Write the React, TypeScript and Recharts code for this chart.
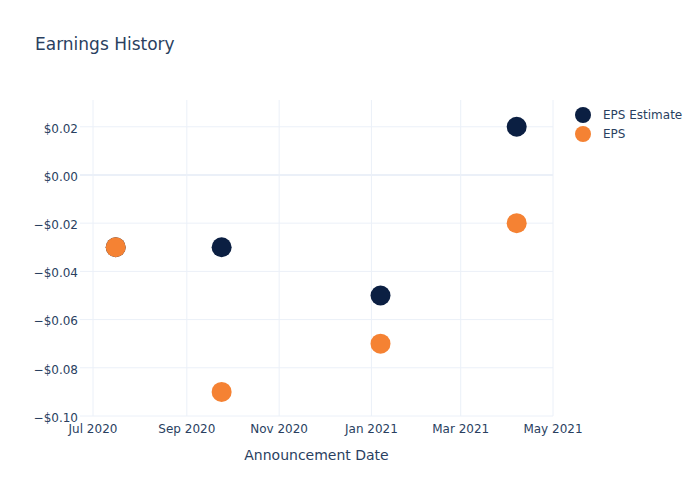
import React from "react";
import {
  ScatterChart,
  Scatter,
  XAxis,
  YAxis,
  ReferenceLine,
} from "recharts";

const announcementDates: string[] = ["2020-07-16", "2020-09-24", "2021-01-07", "2021-04-07"];
const epsEstimate: number[] = [-0.03, -0.03, -0.05, 0.02];
const epsActual: number[] = [-0.03, -0.09, -0.07, -0.02];
const xTickDates: string[] = ["2020-07-01", "2020-09-01", "2020-11-01", "2021-01-01", "2021-03-01", "2021-05-01"];
const yTicks: number[] = [-0.1, -0.08, -0.06, -0.04, -0.02, 0, 0.02];
const monthNames: string[] = ["Jan", "Feb", "Mar", "Apr", "May", "Jun", "Jul", "Aug", "Sep", "Oct", "Nov", "Dec"];

const SERIES_NAMES = ["EPS Estimate", "EPS"];
const NAVY = "#0b1f42";
const ORANGE = "#f58233";
const TEXT = "#2a3f5f";
const GRID = "#ebf0f8";
const FONT = "'DejaVu Sans', Verdana, sans-serif";

const ts = (d: string) => Date.parse(d + "T00:00:00Z");

const estimateData = announcementDates.map((d, i) => ({ x: ts(d), y: epsEstimate[i] }));
const epsData = announcementDates.map((d, i) => ({ x: ts(d), y: epsActual[i] }));
const xTicks = xTickDates.map(ts);
const xDomain = [ts("2020-07-01") - 8.6 * 86400000, ts("2021-05-01")];

const fmtDate = (v: number) => {
  const d = new Date(v);
  return `${monthNames[d.getUTCMonth()]} ${d.getUTCFullYear()}`;
};
const fmtMoney = (v: number) => {
  const a = Math.abs(v).toFixed(2);
  return v < -1e-9 ? `\u2212$${a}` : `$${a}`;
};

const dot = (color: string) => (props: any) => (
  <circle cx={props.cx} cy={props.cy} r={10} fill={color} />
);

const YTick = (props: any) => (
  <text
    x={props.x}
    y={props.y + 1.5}
    dy="0.355em"
    textAnchor="end"
    fill={TEXT}
    fontSize={12}
    fontFamily={FONT}
  >
    {fmtMoney(props.payload.value)}
  </text>
);

const LegendBox = () => (
  <div
    style={{
      position: "absolute",
      left: 575,
      top: 105,
      fontFamily: FONT,
      fontSize: 12,
      color: TEXT,
    }}
  >
    {[NAVY, ORANGE].map((c, i) => (
      <div key={i} style={{ display: "flex", alignItems: "center", height: 19 }}>
        <svg width={16} height={16} style={{ marginRight: 12 }}>
          <circle cx={8} cy={8} r={8} fill={c} />
        </svg>
        <span>{SERIES_NAMES[i]}</span>
      </div>
    ))}
  </div>
);

export default function App() {
  return (
    <div
      style={{
        position: "absolute",
        left: 0,
        top: 0,
        width: 700,
        height: 500,
        background: "#fff",
        fontFamily: FONT,
      }}
    >
      <div
        style={{
          position: "absolute",
          left: 35,
          top: 34,
          fontSize: 17,
          color: TEXT,
          fontFamily: FONT,
          lineHeight: "20px",
        }}
      >
        Earnings History
      </div>
      <ScatterChart
        width={700}
        height={500}
        margin={{ top: 100, right: 147, bottom: 0, left: 0 }}
      >
        <XAxis
          type="number"
          dataKey="x"
          domain={xDomain}
          ticks={xTicks}
          tickFormatter={fmtDate}
          allowDataOverflow
          height={84}
          axisLine={false}
          tickLine={false}
          tickSize={0}
          tickMargin={8}
          tick={{ fill: TEXT, fontSize: 12, fontFamily: FONT }}
          label={{
            value: "Announcement Date",
            position: "insideBottom",
            offset: 40,
            fill: TEXT,
            fontSize: 14,
            fontFamily: FONT,
          }}
        />
        <YAxis
          type="number"
          dataKey="y"
          domain={[-0.1, 0.0311]}
          ticks={yTicks}
          allowDataOverflow
          width={80}
          axisLine={false}
          tickLine={false}
          tickSize={0}
          tickMargin={2}
          tick={<YTick />}
        />
        {xTicks.map((t) => (
          <ReferenceLine key={"vx" + t} x={t} stroke={GRID} strokeWidth={1} ifOverflow="visible" />
        ))}
        {yTicks.map((t) => (
          <ReferenceLine
            key={"hy" + t}
            y={t}
            stroke={GRID}
            strokeWidth={t === 0 ? 2 : 1}
            ifOverflow="visible"
          />
        ))}
        <Scatter
          name={SERIES_NAMES[0]}
          data={estimateData}
          fill={NAVY}
          shape={dot(NAVY)}
          isAnimationActive={false}
        />
        <Scatter
          name={SERIES_NAMES[1]}
          data={epsData}
          fill={ORANGE}
          shape={dot(ORANGE)}
          isAnimationActive={false}
        />
      </ScatterChart>
      <LegendBox />
    </div>
  );
}
